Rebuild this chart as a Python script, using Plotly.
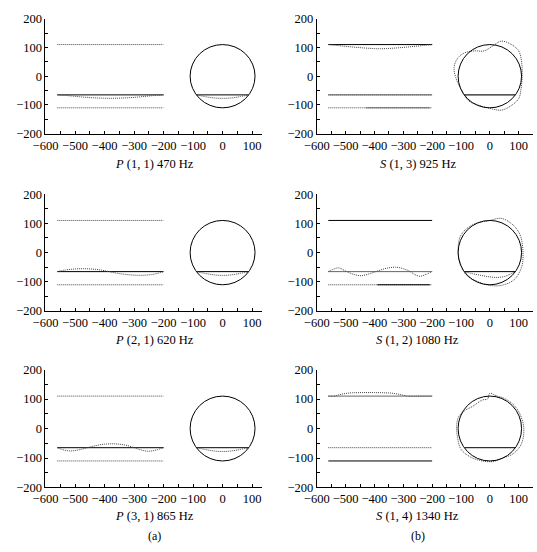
import plotly.graph_objects as go

# ---------------- data ----------------
PIPE_X = [-560, -200]
SHELL_TOP_Y = [110, 110]
SHELL_BOTTOM_Y = [-110, -110]
PLATE_Y = [-65, -65]
CHORD_X = [-88, 88]
CHORD_Y = [-65, -65]
RADIUS = 110

panel_labels = ["<i>P</i> (1, 1) 470 Hz", "<i>S</i> (1, 3) 925 Hz",
                "<i>P</i> (2, 1) 620 Hz", "<i>S</i> (1, 2) 1080 Hz",
                "<i>P</i> (3, 1) 865 Hz", "<i>S</i> (1, 4) 1340 Hz"]
column_labels = ["(a)", "(b)"]
x_tick_vals = [-600, -500, -400, -300, -200, -100, 0, 100]
y_tick_vals = [-200, -100, 0, 100, 200]

# P(1,1) deformed plate and chord
p11_plate_x = [-560, -520, -480, -440, -400, -380, -360, -320, -280, -240, -200]
p11_plate_y = [-65, -68, -72, -75, -76.5, -77, -76.5, -75, -72, -68, -65]
p11_chord_x = [-88, -60, -30, 0, 30, 60, 88]
p11_chord_y = [-65, -71, -75.5, -77, -75.5, -71, -65]

# P(2,1)
p21_plate_x = [-560, -530, -500, -470, -440, -410, -385, -360, -330, -300, -270, -240, -220, -200]
p21_plate_y = [-65, -59, -56, -55, -56.5, -60, -65, -70, -74.5, -77, -77.5, -75, -71, -65]
p21_chord_x = [-88, -60, -30, 0, 30, 60, 88]
p21_chord_y = [-65, -71, -76, -78, -76, -71, -65]

# P(3,1)
p31_plate_x = [-560, -540, -515, -490, -458, -430, -400, -365, -330, -299, -275, -250, -225, -200]
p31_plate_y = [-65, -72, -76, -73, -65, -58, -53, -52, -56, -65, -73, -77, -73, -65]
p31_chord_x = [-88, -60, -30, 0, 30, 60, 88]
p31_chord_y = [-65, -71, -76, -78, -76, -71, -65]

# S(1,3)
s13_top_x = [-560, -520, -480, -440, -400, -380, -360, -320, -280, -240, -200]
s13_top_y = [110, 106, 102, 98.5, 96, 95.5, 96, 98.5, 102, 106, 110]
s13_bottom_solid_x = [-430, -208]
s13_ring_x = [40, 75, 100, 110, 112, 108, 100, 70, 40, 0, -35, -73, -100, -118, -124, -112, -90, -55, -20, 10, 40]
s13_ring_y = [122, 110, 88, 50, 0, -45, -78, -105, -118, -112, -102, -86, -45, -5, 30, 62, 80, 88, 88, 105, 122]

# S(1,2)
s12_plate_x = [-560, -545, -525, -510, -496, -470, -446, -420, -395, -360, -327, -300, -276, -260, -243, -220, -200]
s12_plate_y = [-65, -58, -52, -58, -65, -75, -79, -73, -65, -54, -50, -55, -65, -75, -81, -74, -65]
s12_chord_x = [-88, -60, -30, 0, 25, 50, 70, 88]
s12_chord_y = [-65, -72, -78, -83, -85, -82, -74, -65]
s12_bottom_solid_x = [-390, -208]
s12_ring_x = [0, 40, 80, 105, 115, 110, 85, 40, 0, -40, -80, -103, -110, -100, -60, 0]
s12_ring_y = [110, 117, 95, 60, 0, -50, -92, -112, -112, -100, -78, -35, 10, 60, 95, 110]

# S(1,4)
s14_top_x = [-560, -540, -520, -500, -480, -440, -400, -360, -340, -320, -300, -285, -240, -200]
s14_top_y = [110, 110, 115, 119, 121, 122, 122, 121, 120, 117, 113, 110, 110, 110]
s14_ring_x = [0, 20, 55, 90, 112, 118, 108, 80, 45, 10, -35, -70, -100, -112, -115, -108, -85, -60, -25, -8, 0]
s14_ring_y = [120, 112, 100, 72, 30, -10, -55, -86, -100, -112, -108, -95, -70, -30, 10, 40, 62, 75, 97, 100, 120]

# ---------------- figure ----------------
FONT = "Liberation Serif"
W, H = 537, 552
fig = go.Figure()

SOLID = dict(color="black", width=1)
GRAY = dict(color="#666666", width=1)
DOT = dict(color="#444444", width=1, dash="1px,1px")


def line(ax, x, y, style, shape="linear"):
    ln = dict(style)
    fig.add_trace(go.Scatter(x=x, y=y, mode="lines", line=dict(**ln, shape=shape),
                             xaxis="x" + ("" if ax == 1 else str(ax)),
                             yaxis="y" + ("" if ax == 1 else str(ax)),
                             showlegend=False, hoverinfo="skip"))


def circle(ax):
    ref = "" if ax == 1 else str(ax)
    fig.add_shape(type="circle", xref="x" + ref, yref="y" + ref,
                  x0=-RADIUS, x1=RADIUS, y0=-RADIUS, y1=RADIUS,
                  line=dict(color="black", width=1))


# P panels (left column: axes 1, 3, 5)
for ax, px, py, cx, cy in [(1, p11_plate_x, p11_plate_y, p11_chord_x, p11_chord_y),
                           (3, p21_plate_x, p21_plate_y, p21_chord_x, p21_chord_y),
                           (5, p31_plate_x, p31_plate_y, p31_chord_x, p31_chord_y)]:
    line(ax, PIPE_X, SHELL_TOP_Y, DOT)
    line(ax, PIPE_X, SHELL_BOTTOM_Y, DOT)
    line(ax, PIPE_X, PLATE_Y, SOLID)
    line(ax, px, py, DOT, "spline")
    circle(ax)
    line(ax, CHORD_X, CHORD_Y, SOLID)
    line(ax, cx, cy, DOT, "spline")

# S(1,3) axis 2
line(2, PIPE_X, SHELL_TOP_Y, SOLID)
line(2, s13_top_x, s13_top_y, DOT, "spline")
line(2, PIPE_X, PLATE_Y, GRAY)
line(2, PIPE_X, PLATE_Y, DOT)
line(2, PIPE_X, SHELL_BOTTOM_Y, DOT)
line(2, s13_bottom_solid_x, SHELL_BOTTOM_Y, GRAY)
circle(2)
line(2, s13_ring_x, s13_ring_y, DOT, "spline")
line(2, CHORD_X, CHORD_Y, SOLID)
line(2, CHORD_X, CHORD_Y, DOT)

# S(1,2) axis 4
line(4, PIPE_X, SHELL_TOP_Y, SOLID)
line(4, PIPE_X, PLATE_Y, GRAY)
line(4, s12_plate_x, s12_plate_y, DOT, "spline")
line(4, PIPE_X, SHELL_BOTTOM_Y, DOT)
line(4, s12_bottom_solid_x, SHELL_BOTTOM_Y, SOLID)
circle(4)
line(4, s12_ring_x, s12_ring_y, DOT, "spline")
line(4, CHORD_X, CHORD_Y, SOLID)
line(4, s12_chord_x, s12_chord_y, DOT, "spline")

# S(1,4) axis 6
line(6, PIPE_X, SHELL_TOP_Y, GRAY)
line(6, s14_top_x, s14_top_y, DOT, "spline")
line(6, PIPE_X, PLATE_Y, DOT)
line(6, PIPE_X, SHELL_BOTTOM_Y, SOLID)
circle(6)
line(6, s14_ring_x, s14_ring_y, DOT, "spline")
line(6, CHORD_X, CHORD_Y, SOLID)

# ---------------- axes layout ----------------
col_dom = [[33.3 / W, 255 / W], [311.3 / W, 533 / W]]
col_range = [[-600, 133], [-600, 150]]
row_px = [(12, 130), (192, 312), (372, 493)]
label_y_px = [161, 342, 522]
label_x_px = [145, 415]

layout = dict(width=W, height=H, margin=dict(l=0, r=0, t=0, b=0),
              plot_bgcolor="white", paper_bgcolor="white",
              font=dict(family=FONT, size=12, color="black"), annotations=[])

for r in range(3):
    for c in range(2):
        idx = r * 2 + c + 1
        suf = "" if idx == 1 else str(idx)
        top, bot = row_px[r]
        layout["xaxis" + suf] = dict(
            domain=col_dom[c], range=col_range[c], anchor="y" + suf,
            showline=True, linecolor="black", linewidth=1, showgrid=False, zeroline=False,
            tickvals=x_tick_vals, ticks="inside", ticklen=3, tickcolor="black",
            minor=dict(dtick=50, tick0=0, ticks="inside", ticklen=3, tickcolor="black", showgrid=False),
            tickfont=dict(family=FONT, size=12.5), fixedrange=True)
        layout["yaxis" + suf] = dict(
            domain=[1 - bot / H, 1 - top / H], range=[-200, 200], anchor="x" + suf,
            showline=True, linecolor="black", linewidth=1, showgrid=False, zeroline=False,
            tickvals=y_tick_vals, ticks="inside", ticklen=3, tickcolor="black",
            minor=dict(dtick=50, tick0=0, ticks="inside", ticklen=3, tickcolor="black", showgrid=False),
            tickfont=dict(family=FONT, size=12.5), fixedrange=True)
        layout["annotations"].append(dict(
            text=panel_labels[idx - 1], xref="paper", yref="paper",
            x=label_x_px[c] / W, y=1 - label_y_px[r] / H, xanchor="center", yanchor="middle",
            showarrow=False, font=dict(family=FONT, size=12.5)))

for c in range(2):
    layout["annotations"].append(dict(
        text=column_labels[c], xref="paper", yref="paper",
        x=label_x_px[c] / W, y=1 - 543 / H, xanchor="center", yanchor="middle",
        showarrow=False, font=dict(family=FONT, size=12)))

fig.update_layout(**layout)
fig.write_html("out.html")
